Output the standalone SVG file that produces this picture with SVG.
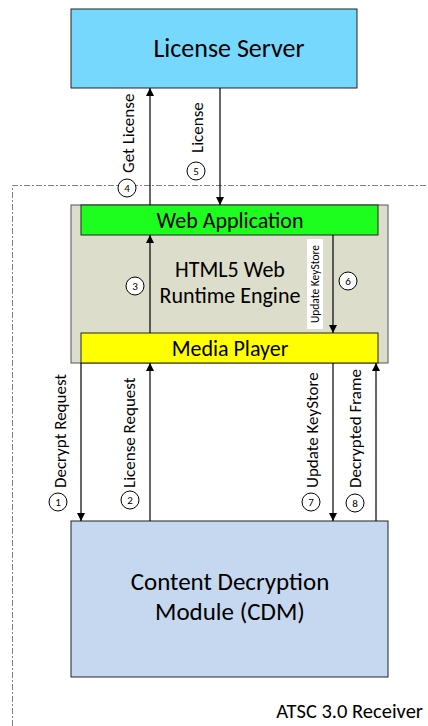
<svg xmlns="http://www.w3.org/2000/svg" width="428" height="726" viewBox="0 0 428 726">
<defs>
<marker id="ah" viewBox="0 0 10 10" refX="10" refY="5" markerWidth="8" markerHeight="8" markerUnits="userSpaceOnUse" orient="auto"><path d="M0,0 L10,5 L0,10 z" fill="#000"/></marker>
<style>
text{font-family:Carlito,"Open Sans","Liberation Sans",sans-serif;fill:#000}
.big{font-size:26px;text-anchor:middle}
.cdm{font-size:25px;text-anchor:middle}
.mid{font-size:22px;text-anchor:middle}
.lbl{font-size:17px;text-anchor:start}
.num{font-size:11px;text-anchor:middle}
.circ{fill:#fff;stroke:#000;stroke-width:1}
.conn{stroke:#000;stroke-width:1.2;fill:none;marker-end:url(#ah)}
</style>
</defs>
<rect width="428" height="726" fill="#fff"/>
<g id="receiver">
<path d="M12.5,726 L12.5,185.5 L428,185.5" fill="none" stroke="#808080" stroke-width="1" stroke-dasharray="6,2,2,2"/>
<text x="423" y="718" font-size="20.5" text-anchor="end">ATSC 3.0 Receiver</text>
</g>
<g id="license-server">
<rect x="71" y="9" width="286" height="79" fill="#75d8fc" stroke="#222" stroke-width="1"/>
<text class="big" x="229" y="57">License Server</text>
</g>
<g id="runtime-engine">
<rect x="71" y="205" width="317" height="158" fill="#dcdecb" stroke="#555" stroke-width="1"/>
<text class="mid" x="230" y="277">HTML5 Web</text>
<text class="mid" x="230" y="303">Runtime Engine</text>
</g>
<g id="web-application">
<rect x="81" y="205" width="297" height="30" fill="#1efe1e" stroke="#222" stroke-width="1"/>
<text class="mid" x="230" y="228">Web Application</text>
</g>
<g id="media-player">
<rect x="81" y="333" width="297" height="30" fill="#ffff00" stroke="#222" stroke-width="1"/>
<text class="mid" x="230" y="356">Media Player</text>
</g>
<g id="cdm">
<rect x="71" y="521" width="317" height="156" fill="#c5d8ef" stroke="#222" stroke-width="1"/>
<text class="cdm" x="230" y="590">Content Decryption</text>
<text class="cdm" x="230" y="620">Module (CDM)</text>
</g>
<g id="connectors">
<line class="conn" x1="150" y1="205" x2="150" y2="88"/>
<line class="conn" x1="220" y1="88" x2="220" y2="205"/>
<line class="conn" x1="150" y1="333" x2="150" y2="235"/>
<line class="conn" x1="333" y1="235" x2="333" y2="333" stroke="#444"/>
<line class="conn" x1="81" y1="363" x2="81" y2="521"/>
<line class="conn" x1="150" y1="521" x2="150" y2="363"/>
<line class="conn" x1="333" y1="363" x2="333" y2="521"/>
<line class="conn" x1="376" y1="521" x2="376" y2="363"/>
</g>
<g id="labels">
<text class="lbl" transform="translate(134,173) rotate(-90)">Get License</text>
<circle class="circ" cx="127" cy="188" r="9"/><text class="num" x="127" y="192">4</text>
<text class="lbl" transform="translate(203,153) rotate(-90)">License</text>
<circle class="circ" cx="196" cy="171" r="9"/><text class="num" x="196" y="175">5</text>
<circle class="circ" cx="135" cy="286" r="9"/><text class="num" x="135" y="290">3</text>
<rect x="307" y="239" width="16" height="90" fill="#fff"/>
<text transform="translate(319,284) rotate(-90)" font-size="11.5" text-anchor="middle">Update KeyStore</text>
<circle class="circ" cx="348" cy="281" r="9"/><text class="num" x="348" y="285">6</text>
<text class="lbl" transform="translate(66,488) rotate(-90)">Decrypt Request</text>
<circle class="circ" cx="58" cy="502" r="9"/><text class="num" x="58" y="506">1</text>
<text class="lbl" transform="translate(135,488) rotate(-90)">License Request</text>
<circle class="circ" cx="130" cy="500" r="9"/><text class="num" x="130" y="504">2</text>
<text class="lbl" transform="translate(318,488) rotate(-90)">Update KeyStore</text>
<circle class="circ" cx="311" cy="502" r="9"/><text class="num" x="311" y="506">7</text>
<text class="lbl" transform="translate(361,488) rotate(-90)">Decrypted Frame</text>
<circle class="circ" cx="355" cy="503" r="9"/><text class="num" x="355" y="507">8</text>
</g>
</svg>
